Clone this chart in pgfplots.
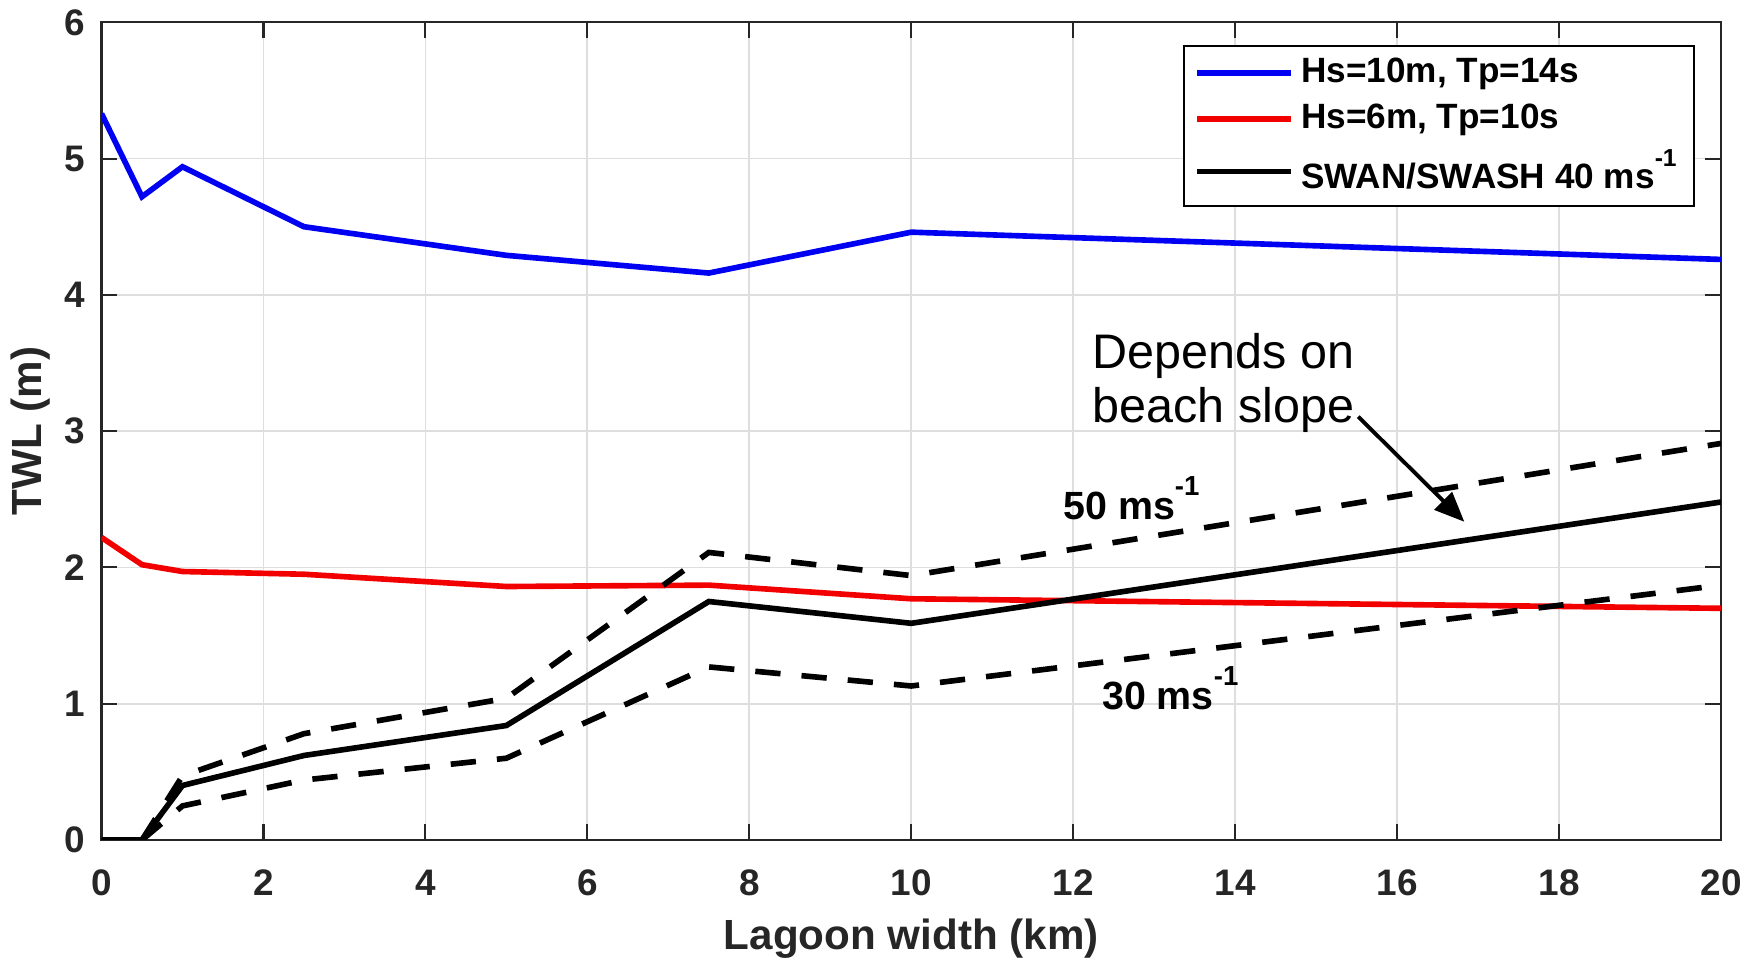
\documentclass[border=0pt]{standalone}
\usepackage{pgfplots}
\pgfplotsset{compat=1.18}
\usepackage{fontspec}
\setmainfont{Liberation Sans}
\usetikzlibrary{arrows.meta}
\definecolor{axgray}{rgb}{0.15,0.15,0.15}
\definecolor{gridgray}{rgb}{0.87,0.87,0.87}
\definecolor{mblue}{rgb}{0,0,0.95}
\definecolor{mred}{rgb}{0.95,0,0}
\newcommand{\sups}[1]{\raisebox{0.62em}{\fontsize{0.7em}{0.8em}\selectfont #1}}
\pgfplotsset{
  legend image code/.code={\draw[#1, line width=1.6pt] (0cm,0cm) -- (0.94cm,0cm);},
}
\begin{document}
\begin{tikzpicture}
\begin{axis}[
  name=ax,
  width=16.195cm, height=8.177cm, scale only axis,
  xmin=0, xmax=20, ymin=0, ymax=6,
  xtick={0,2,...,20}, ytick={0,1,...,6},
  grid=major,
  major grid style={gridgray, line width=0.5pt},
  axis line style={axgray, line width=0.6pt},
  tick style={axgray, line width=0.6pt},
  tick align=inside,
  major tick length=4.5pt,
  xtick pos=both, ytick pos=both,
  /pgf/number format/assume math mode=true,
  ticklabel style={font=\bfseries\fontsize{10.5}{12}\selectfont, text=axgray},
  xticklabel style={anchor=base, yshift=-15.85pt},
  yticklabel style={anchor=east, xshift=-1.25pt},
  xlabel={Lagoon width (km)}, ylabel={TWL (m)},
  label style={font=\bfseries\fontsize{12}{14}\selectfont, text=axgray},
  xlabel style={at={(axis description cs:0.5,-0.1345)}, anchor=base},
  ylabel style={at={(axis description cs:-0.0435,0.5)}, anchor=center},
  legend style={at={(0.984,0.972)}, anchor=north east, draw=black, line width=0.5pt,
    font=\bfseries\fontsize{10}{12}\selectfont, cells={anchor=west},
    inner xsep=3pt, inner ysep=1.5pt, row sep=0.5pt},
]
\addplot[mblue, line width=1.6pt] coordinates {(0,5.33)(0.5,4.72)(1,4.94)(2.5,4.50)(5,4.29)(7.5,4.16)(10,4.46)(20,4.26)};
\addlegendentry{Hs=10m, Tp=14s}
\addplot[mred, line width=1.6pt] coordinates {(0,2.22)(0.5,2.02)(1,1.97)(2.5,1.95)(5,1.86)(7.5,1.87)(10,1.77)(20,1.70)};
\addlegendentry{Hs=6m, Tp=10s}
\addplot[black, line width=1.6pt] coordinates {(0,0)(0.5,0)(1,0.40)(2.5,0.62)(5,0.84)(7.5,1.75)(10,1.59)(20,2.48)};
\addlegendentry{SWAN/SWASH 40 ms\sups{-1}}
\addplot[black, line width=1.6pt, dash pattern=on 7.2pt off 6pt, forget plot] coordinates {(0.5,0)(1,0.47)(2.5,0.78)(5,1.04)(7.5,2.11)(10,1.94)(20,2.91)};
\addplot[black, line width=1.6pt, dash pattern=on 7.2pt off 6pt, forget plot] coordinates {(0.5,0)(1,0.25)(2.5,0.44)(5,0.60)(7.5,1.27)(10,1.13)(20,1.87)};
\node[anchor=base west, font=\fontsize{13.8}{16}\selectfont, inner sep=0pt] at (axis cs:12.23,3.46) {Depends on};
\node[anchor=base west, font=\fontsize{13.8}{16}\selectfont, inner sep=0pt] at (axis cs:12.23,3.06) {beach slope};
\draw[-{Triangle[length=8.5pt,width=7pt]}, line width=1.1pt] (axis cs:15.52,3.106) -- (axis cs:16.83,2.335);
\node[anchor=base west, font=\bfseries\fontsize{11.2}{13}\selectfont, inner sep=0pt] at (axis cs:11.87,2.35) {50 ms\sups{-1}};
\node[anchor=base west, font=\bfseries\fontsize{11.2}{13}\selectfont, inner sep=0pt] at (axis cs:12.35,0.954) {30 ms\sups{-1}};
\end{axis}
\pgfresetboundingbox
\path ([shift={(-1.015cm,-1.19cm)}]ax.south west) rectangle ([shift={(0.28cm,0.223cm)}]ax.north east);
\end{tikzpicture}
\end{document}
